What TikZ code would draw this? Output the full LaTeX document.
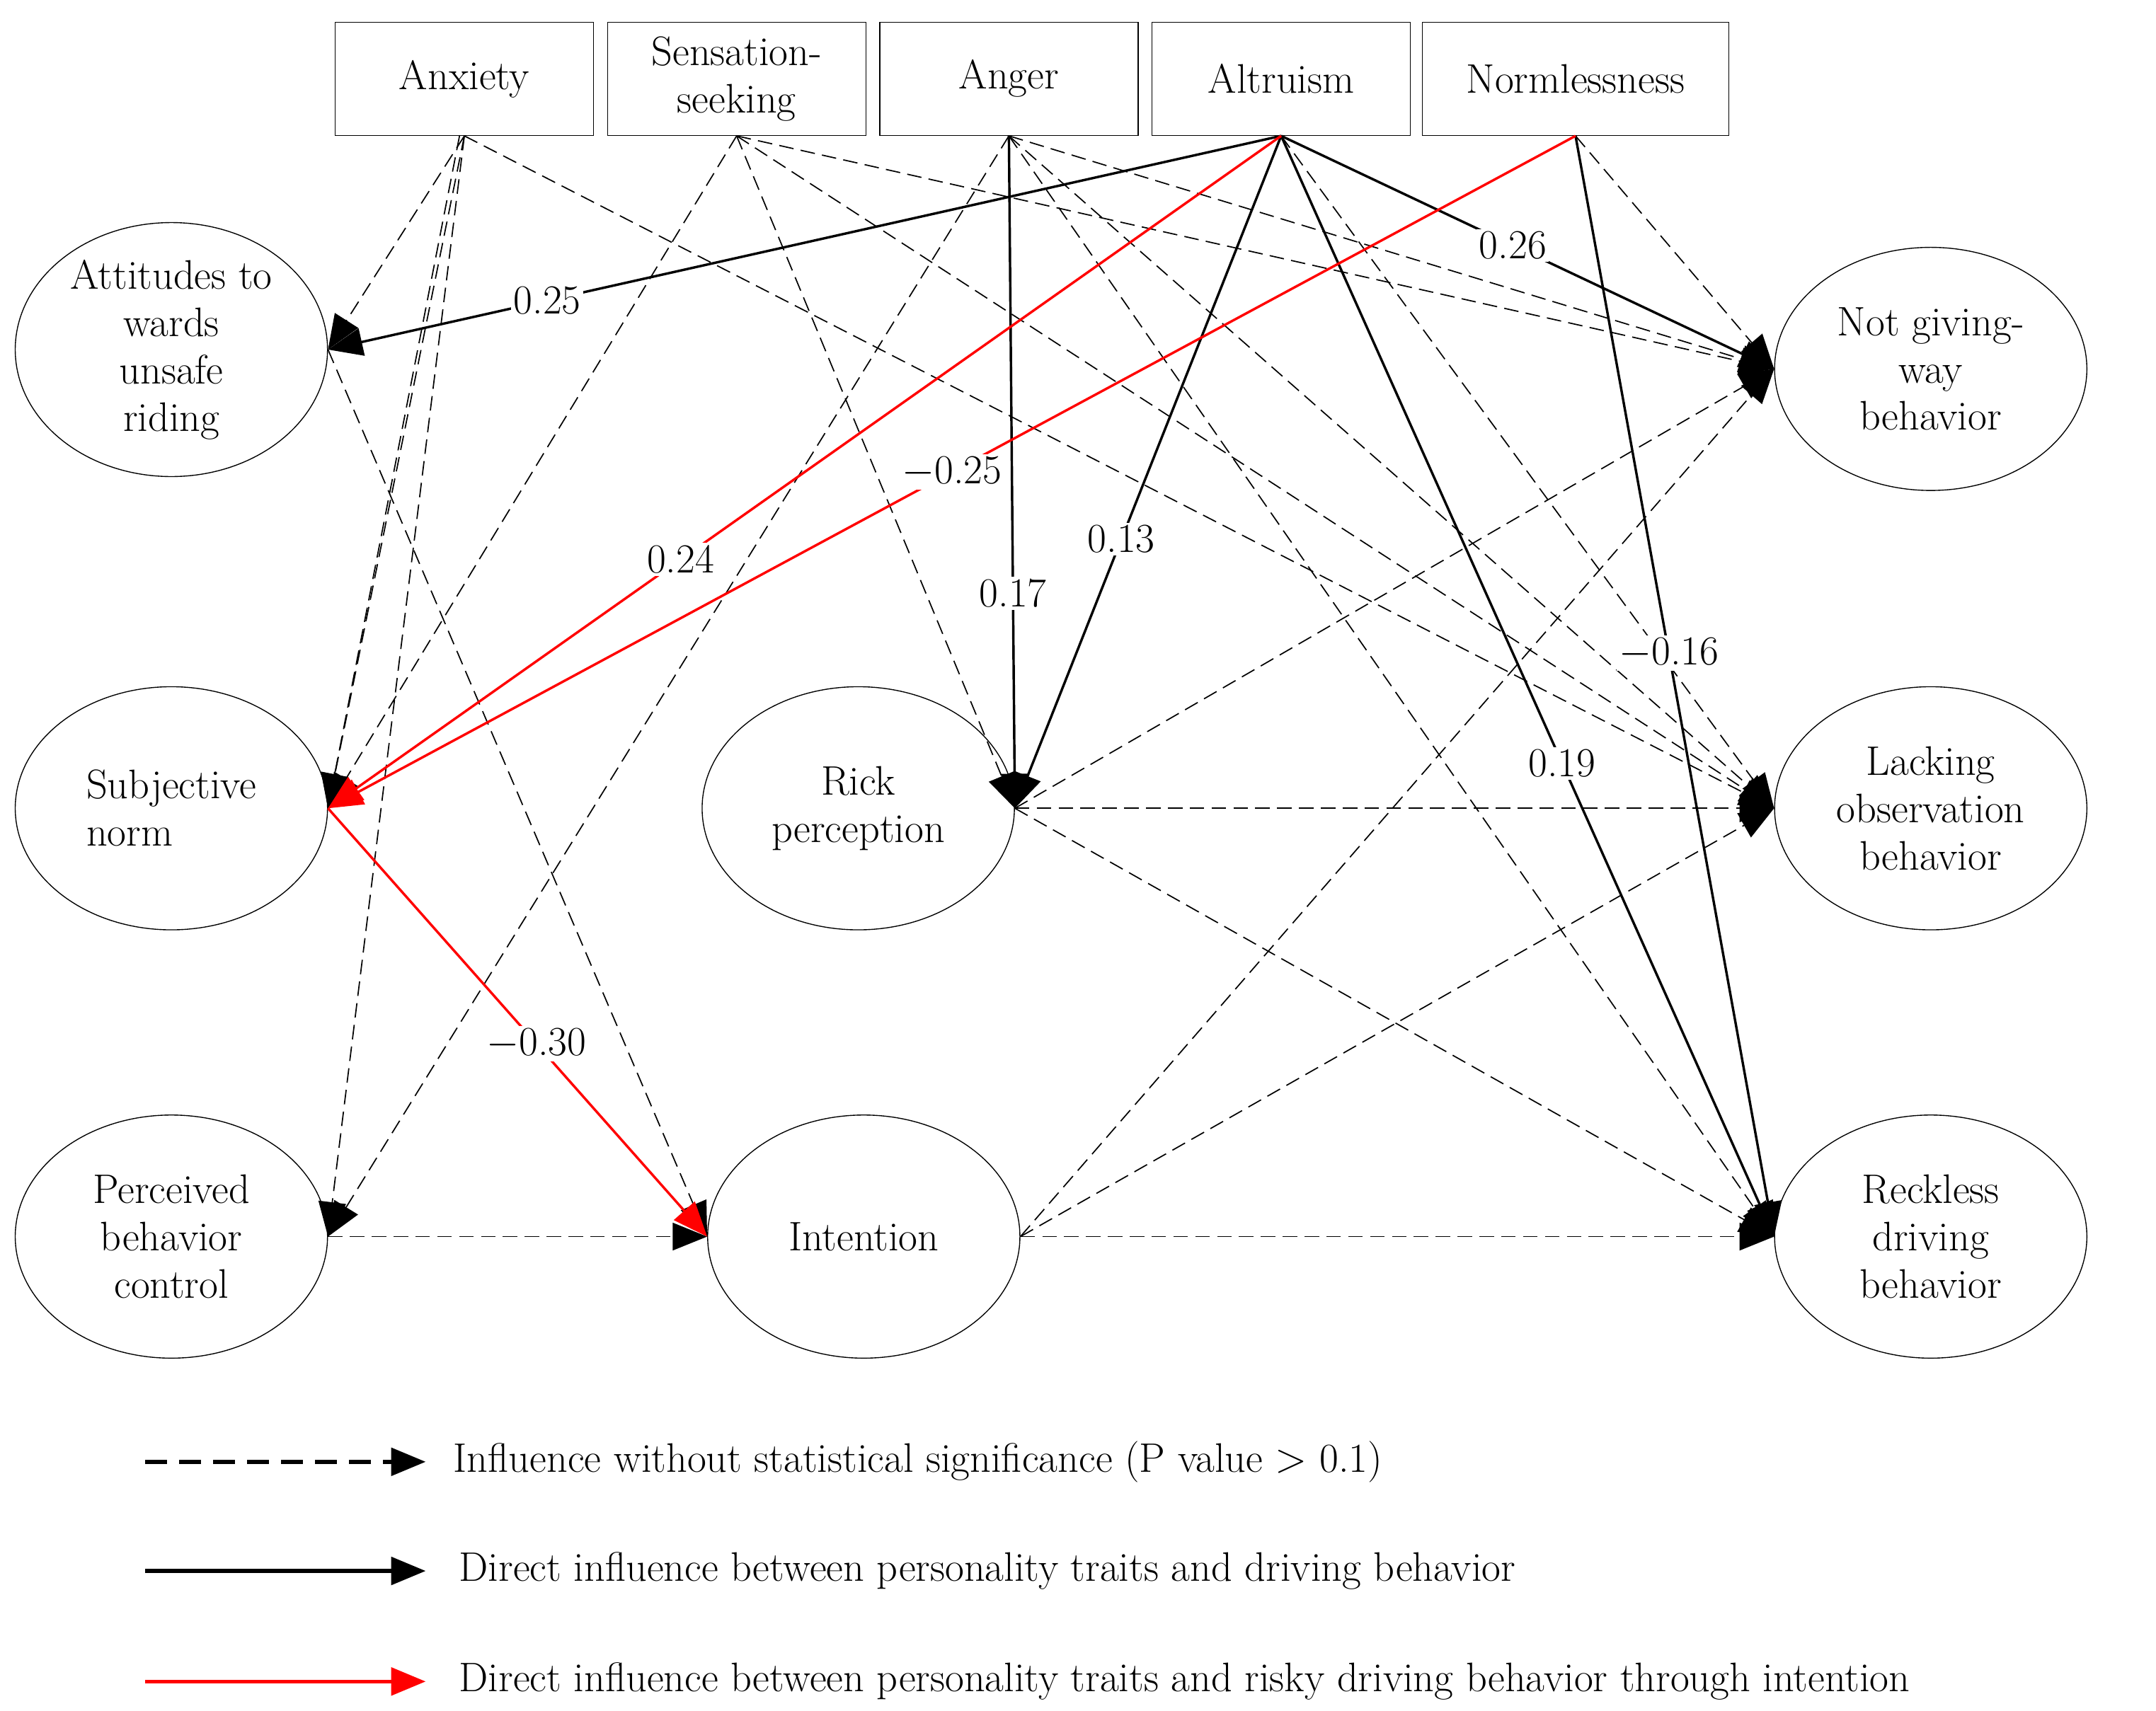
\documentclass[tikz,border=0pt]{standalone}
\usetikzlibrary{arrows.meta,shapes.geometric}
\begin{document}
\begin{tikzpicture}[x=0.02cm,y=-0.02cm,
  every node/.style={font=\fontsize{17}{19.5}\selectfont},
  box/.style={draw,minimum width=3.74cm,minimum height=1.64cm,align=center,inner sep=1pt},
  ell/.style={draw,ellipse,minimum width=4.52cm,minimum height=3.52cm,align=center,inner sep=0pt},
  tip/.style={-{Triangle[length=5mm,width=4mm]}},
  ns/.style={tip,dash pattern=on 6pt off 3pt,line width=0.5pt},
  sg/.style={tip,line width=1pt},
  rd/.style={tip,line width=1pt,red,-{Triangle[length=5mm,width=4mm,fill=red]}},
  lab/.style={fill=white,text=black,inner sep=1pt}]
\useasboundingbox (0,0) rectangle (1560,1238);
\node[box] (anx) at (336,57) {Anxiety};
\node[box,text width=3.5cm] (sen) at (533,57) {Sensation-\\seeking};
\node[box] (ang) at (730,57) {Anger};
\node[box] (alt) at (927,57) {Altruism};
\node[box,minimum width=4.44cm] (nor) at (1140,57) {Normlessness};
\node[ell] (att) at (124,253) {Attitudes to\\wards\\unsafe\\riding};
\node[ell,align=left] (sub) at (124,585) {Subjective\\norm};
\node[ell] (per) at (124,895) {Perceived\\behavior\\control};
\node[ell] (ric) at (621,585) {Rick\\perception};
\node[ell] (int) at (625,895) {Intention};
\node[ell] (ngw) at (1397,267) {Not giving-\\way\\behavior};
\node[ell] (lac) at (1397,585) {Lacking\\observation\\behavior};
\node[ell] (rec) at (1397,895) {Reckless\\driving\\behavior};
% dashed
\draw[ns] (anx.south) -- (att.east);
\draw[ns] (anx.south) -- (sub.east);
\draw[ns] ([xshift=-2]anx.south) -- (sub.east);
\draw[ns] (anx.south) -- (per.east);
\draw[ns] (anx.south) -- (lac.west);
\draw[ns] (att.east) -- (int.west);
\draw[ns] (sen.south) -- (sub.east);
\draw[ns] (sen.south) -- (ric.east);
\draw[ns] (sen.south) -- (ngw.west);
\draw[ns] (sen.south) -- (lac.west);
\draw[ns] (ang.south) -- (per.east);
\draw[ns] (ang.south) -- (ngw.west);
\draw[ns] (ang.south) -- (lac.west);
\draw[ns] (ang.south) -- (rec.west);
\draw[ns] (alt.south) -- (lac.west);
\draw[ns] (nor.south) -- (ngw.west);
\draw[ns] (per.east) -- (int.west);
\draw[ns] (ric.east) -- (lac.west);
\draw[ns] (ric.east) -- (rec.west);
\draw[ns] (ric.east) -- (ngw.west);
\draw[ns] (int.east) -- (ngw.west);
\draw[ns] (int.east) -- (lac.west);
\draw[ns] (int.east) -- (rec.west);
% solid
\draw[sg] (alt.south) -- node[lab,pos=0.77] {0.25} (att.east);
\draw[sg] (ang.south) -- node[lab,pos=0.68] {0.17} (ric.east);
\draw[sg] (alt.south) -- node[lab,pos=0.6] {0.13} (ric.east);
\draw[sg] (alt.south) -- node[lab,pos=0.47] {0.26} (ngw.west);
\draw[sg] (alt.south) -- node[lab,pos=0.57] {0.19} (rec.west);
\draw[sg] (nor.south) -- node[lab,pos=0.47] {$-$0.16} (rec.west);
% red
\draw[rd] (alt.south) -- node[lab,pos=0.63] {0.24} (sub.east);
\draw[rd] (nor.south) -- node[lab,pos=0.5] {$-$0.25} (sub.east);
\draw[rd] (sub.east) -- node[lab,pos=0.55] {$-$0.30} (int.west);
% legend
\coordinate (l1a) at (105,1058); \coordinate (l1b) at (308,1058);
\coordinate (l2a) at (105,1137); \coordinate (l2b) at (308,1137);
\coordinate (l3a) at (105,1217); \coordinate (l3b) at (308,1217);
\draw[tip,line width=1.6pt,dash pattern=on 9pt off 5pt] (l1a) -- (l1b);
\draw[tip,line width=1.6pt] (l2a) -- (l2b);
\draw[tip,line width=1.6pt,red,-{Triangle[length=5mm,width=4mm,fill=red]}] (l3a) -- (l3b);
\node[anchor=west] (t1) at (322,1058) {Influence without statistical significance (P value $>$ 0.1)};
\node[anchor=west] (t2) at (326,1137) {Direct influence between personality traits and driving behavior};
\node[anchor=west] (t3) at (326,1217) {Direct influence between personality traits and risky driving behavior through intention};
\end{tikzpicture}
\end{document}
